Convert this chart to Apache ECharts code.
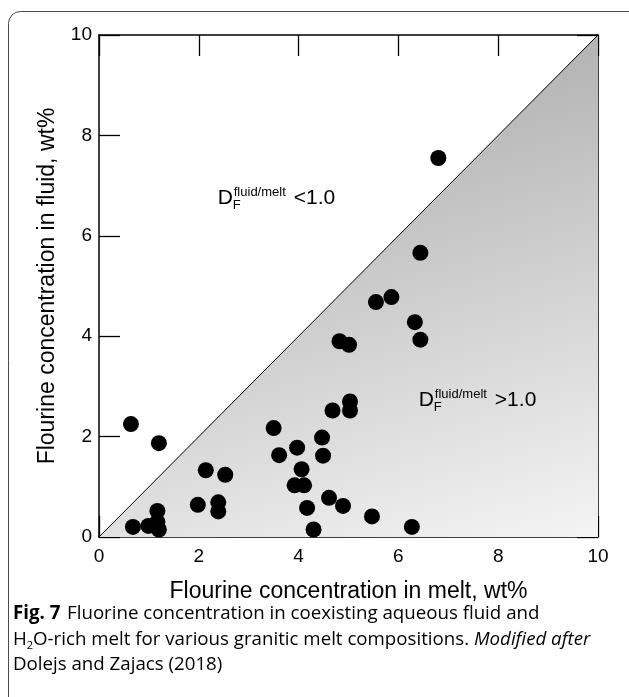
<!DOCTYPE html>
<html><head><meta charset="utf-8">
<script src="https://cdn.jsdelivr.net/npm/echarts@6/dist/echarts.min.js"></script>
<style>html,body{margin:0;padding:0;background:#fff}#c{width:629px;height:697px}</style>
</head><body><div id="c"></div>
<script>
// Data
const meltF  = [6.80, 6.44, 5.55, 5.86, 6.33, 6.44, 4.82, 5.01, 5.03, 5.03, 4.68, 0.64, 1.20, 3.50, 4.47, 3.97, 3.61, 4.49, 2.14, 2.53, 4.06, 3.92, 4.11, 4.61, 4.89, 4.17, 1.98, 2.39, 2.39, 1.17, 5.47, 1.17, 0.68, 0.99, 1.20, 4.30, 6.27];
const fluidF = [7.55, 5.66, 4.68, 4.78, 4.28, 3.93, 3.90, 3.83, 2.70, 2.52, 2.52, 2.25, 1.87, 2.17, 1.98, 1.78, 1.63, 1.62, 1.33, 1.24, 1.35, 1.03, 1.03, 0.78, 0.62, 0.58, 0.64, 0.69, 0.51, 0.52, 0.41, 0.30, 0.20, 0.22, 0.15, 0.15, 0.20];
const axisMin = 0, axisMax = 10, axisStep = 2;
const unityLine = [[0, 0], [10, 10]];
const xTitle = 'Flourine concentration in melt, wt%';
const yTitle = 'Flourine concentration in fluid, wt%';
const labelLow = {anchor: [2.38, 6.53], rel: '<1.0'};
const labelHigh = {anchor: [6.41, 2.51], rel: '>1.0'};

const chart = echarts.init(document.getElementById('c'), null, {renderer: 'canvas'});
const axisFont = 'Liberation Sans, Arial, Helvetica, sans-serif';
const frameLine = {show: true, onZero: false, lineStyle: {color: '#000', width: 1.5}};
const tick = {show: true, inside: true, length: 21, lineStyle: {color: '#000', width: 1.3}};

const points = meltF.map((m, i) => [m, fluidF[i]]);

chart.setOption({
  animation: false,
  backgroundColor: '#fff',
  grid: {left: 99, top: 35, width: 499, height: 502, containLabel: false},
  xAxis: [
    {type: 'value', min: axisMin, max: axisMax, interval: axisStep, position: 'bottom',
     axisLine: frameLine, axisTick: tick, splitLine: {show: false},
     axisLabel: {fontSize: 19, color: '#000', margin: 10, fontFamily: axisFont},
     name: xTitle, nameLocation: 'middle', nameGap: 43,
     nameTextStyle: {fontSize: 23, color: '#000', fontFamily: axisFont}},
    {type: 'value', min: axisMin, max: axisMax, interval: axisStep, position: 'top',
     axisLine: frameLine, axisTick: tick, splitLine: {show: false}, axisLabel: {show: false}}
  ],
  yAxis: [
    {type: 'value', min: axisMin, max: axisMax, interval: axisStep, position: 'left',
     axisLine: frameLine, axisTick: tick, splitLine: {show: false},
     axisLabel: {fontSize: 19, color: '#000', margin: 7, fontFamily: axisFont},
     name: yTitle, nameLocation: 'middle', nameGap: 40, nameRotate: 90,
     nameTextStyle: {fontSize: 23, color: '#000', fontFamily: axisFont}},
    {type: 'value', min: axisMin, max: axisMax, interval: axisStep, position: 'right',
     axisLine: frameLine, axisTick: tick, splitLine: {show: false}, axisLabel: {show: false}}
  ],
  series: [
    {type: 'line', data: unityLine, symbol: 'none', silent: true,
     lineStyle: {color: '#000', width: 1},
     areaStyle: {opacity: 1, color: new echarts.graphic.LinearGradient(0, 0, 0.36, 1.19, [
       {offset: 0, color: '#a0a0a0'}, {offset: 1, color: '#f4f4f4'}])}, z: 1},
    {type: 'scatter', data: points, symbol: 'circle', symbolSize: 16,
     itemStyle: {color: '#000', opacity: 1}, z: 3}
  ]
});

function annot(cfg) {
  const p = chart.convertToPixel({gridIndex: 0}, cfg.anchor);
  const x = p[0], y = p[1];
  const f = axisFont;
  return [
    {type: 'text', z: 100, x: x, y: y, style: {text: 'D', font: '21px ' + f, fill: '#000', verticalAlign: 'bottom'}},
    {type: 'text', z: 100, x: x + 15, y: y + 3, style: {text: 'F', font: '13px ' + f, fill: '#000', verticalAlign: 'bottom'}},
    {type: 'text', z: 100, x: x + 16, y: y - 10, style: {text: 'fluid/melt', font: '13px ' + f, fill: '#000', verticalAlign: 'bottom'}},
    {type: 'text', z: 100, x: x + 76, y: y, style: {text: cfg.rel, font: '21px ' + f, fill: '#000', verticalAlign: 'bottom'}}
  ];
}

const capFont = '"Open Sans", "Noto Sans", sans-serif';
const capColor = '#231f20';
const capSize = 18.7;
const graphics = [
  {type: 'rect', shape: {x: 8.5, y: 11.5, width: 640, height: 700, r: 12},
   style: {fill: 'none', stroke: '#4a4a4a', lineWidth: 1}, z: 0},
  ...annot(labelLow), ...annot(labelHigh),
  {type: 'text', z: 100, x: 13, y: 614, style: {
    text: '{b|Fig. 7}  {n|Fluorine concentration in coexisting aqueous fluid and}',
    verticalAlign: 'middle',
    rich: {b: {fontFamily: capFont, fontSize: capSize, fontWeight: 'bold', color: '#000'},
           n: {fontFamily: capFont, fontSize: capSize, color: capColor}}}},
  {type: 'text', z: 100, x: 13, y: 640, style: {
    text: '{n|H}{s|2}{n|O-rich melt for various granitic melt compositions. }{i|Modified after}',
    verticalAlign: 'middle',
    rich: {n: {fontFamily: capFont, fontSize: capSize, color: capColor, lineHeight: 22, verticalAlign: 'middle'},
           s: {fontFamily: capFont, fontSize: 11, color: capColor, lineHeight: 11, verticalAlign: 'bottom'},
           i: {fontFamily: capFont, fontSize: capSize, fontStyle: 'italic', color: capColor, lineHeight: 22}}}},
  {type: 'text', z: 100, x: 13, y: 665, style: {
    text: '{n|Dolejs and Zajacs (}{l|2018}{n|)}',
    verticalAlign: 'middle',
    rich: {n: {fontFamily: capFont, fontSize: capSize, color: capColor},
           l: {fontFamily: capFont, fontSize: capSize, color: '#2a6ebb'}}}}
];
chart.setOption({graphic: graphics});
</script>
</body></html>
